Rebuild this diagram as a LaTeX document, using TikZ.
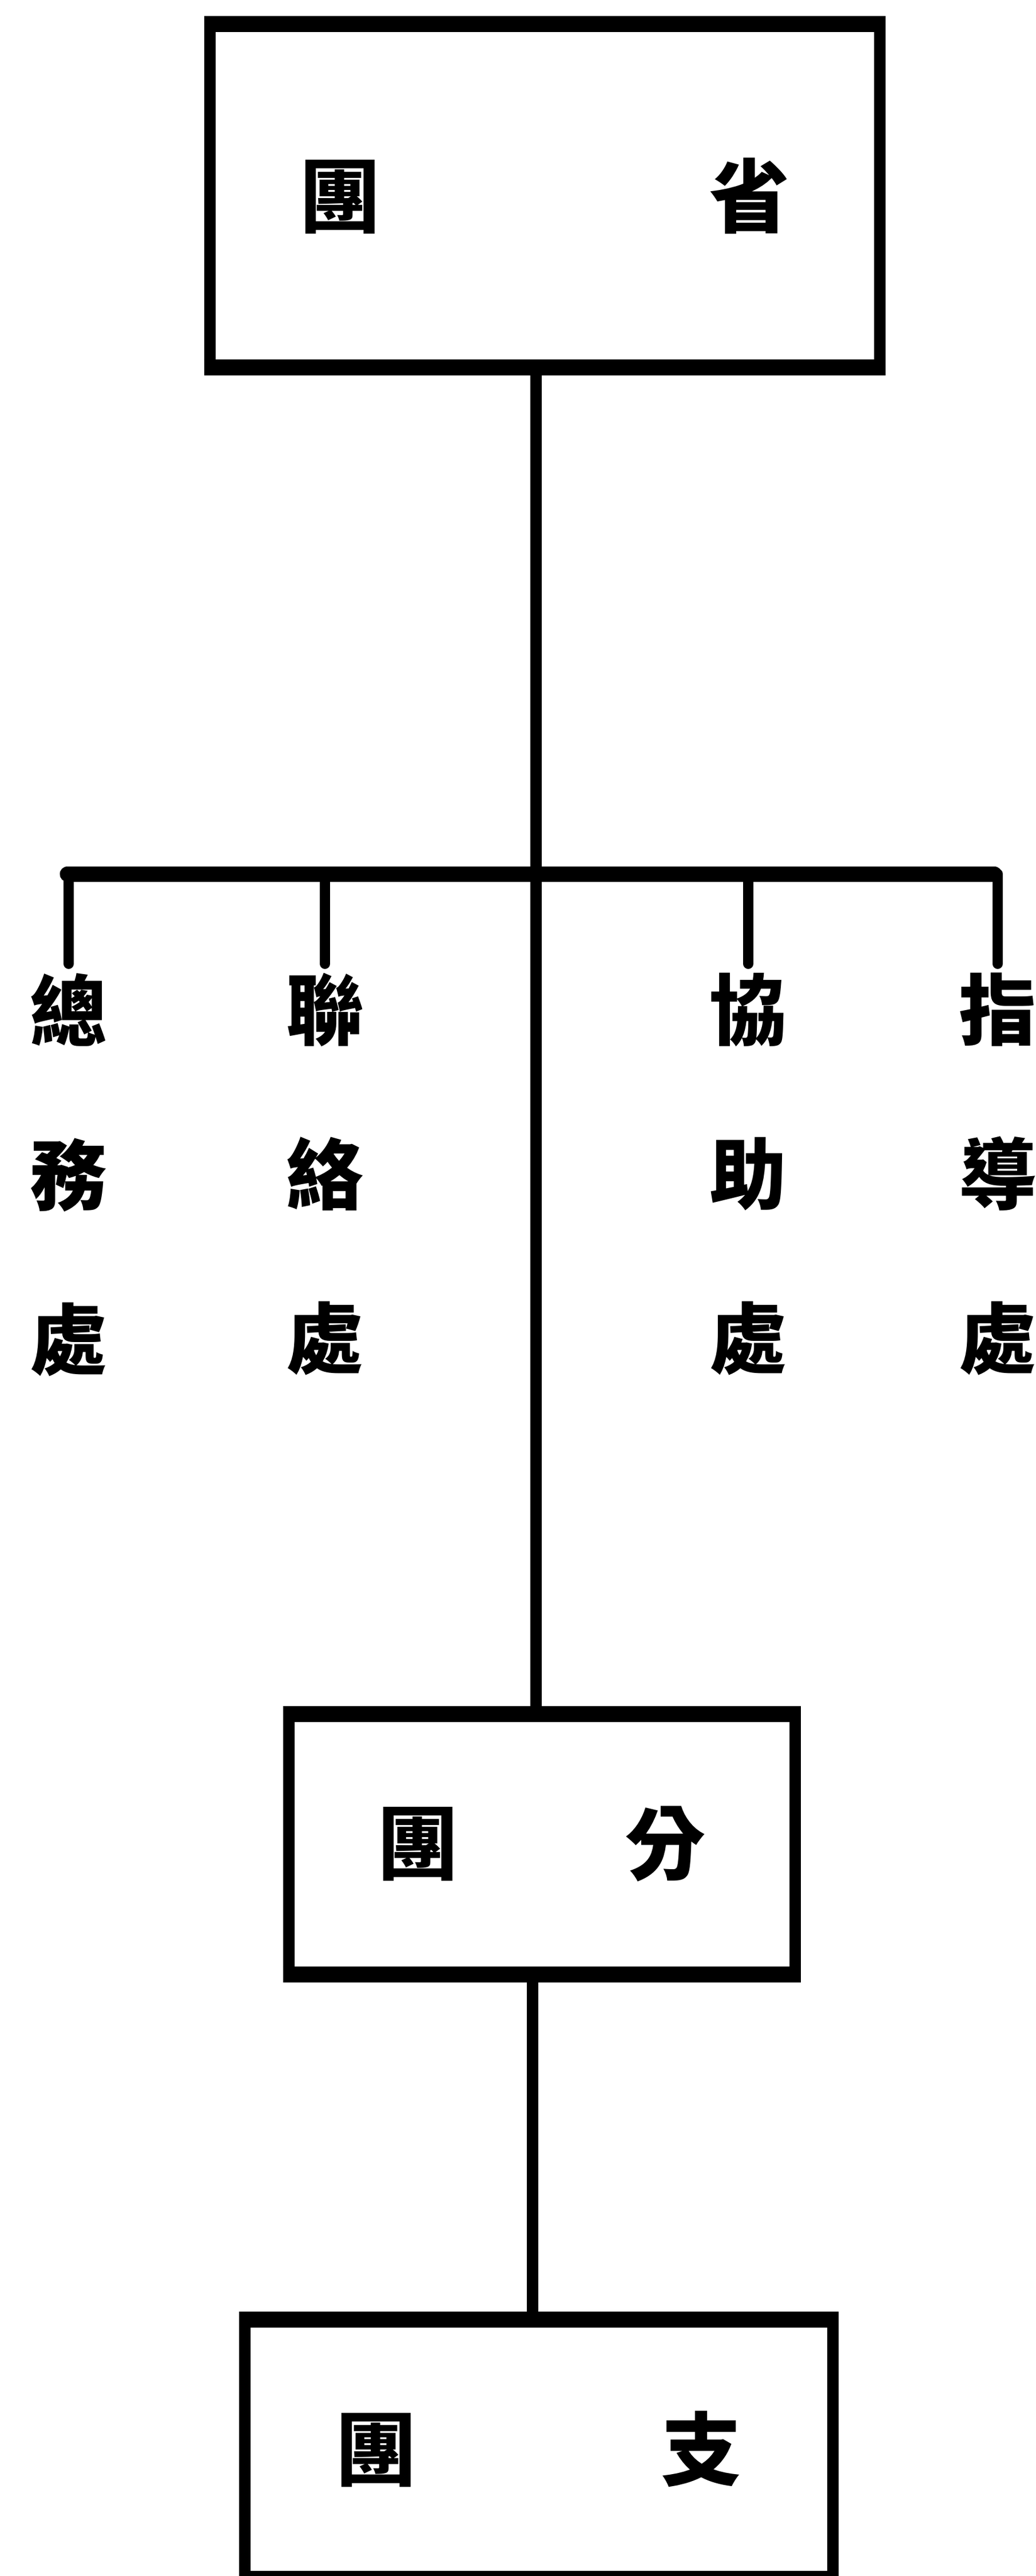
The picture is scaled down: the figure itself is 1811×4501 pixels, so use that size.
\documentclass[tikz,border=0pt]{standalone}
\usepackage{fontspec}
\newfontfamily\cjk{Noto Sans CJK TC}
\begin{document}
\begin{tikzpicture}[x=1pt,y=-1pt,
  box/.style={draw=black, line width=20pt, outer sep=0pt, inner sep=0pt,
    font=\cjk\bfseries\fontsize{140}{140}\selectfont},
  edge/.style={line width=28pt},
  conn/.style={line width=20pt},
  drop/.style={line width=18pt, line cap=round},
  lab/.style={inner sep=0pt, anchor=north, align=center,
    font=\cjk\bfseries\fontsize{135}{287}\selectfont}]
\useasboundingbox (0,0) rectangle (1811,4501);
\fill[white] (0,0) rectangle (1811,4501);

% boxes
\node[box, minimum width=1171pt, minimum height=600pt] (prov) at (952,342) {團\hspace{576pt}省};
\node[box, minimum width=885pt, minimum height=455pt] (mid) at (947,3222) {團\hspace{293pt}分};
\node[box, minimum width=1028pt, minimum height=453pt] (sub) at (942,4279) {團\hspace{429pt}支};

% thicker top and bottom edges
\foreach \b in {prov,mid,sub}{
  \draw[edge, shorten <=-10pt, shorten >=-10pt] (\b.north west) -- (\b.north east);
  \draw[edge, shorten <=-10pt, shorten >=-10pt] (\b.south west) -- (\b.south east);
}

% branch bar
\coordinate (barL) at (118,1527);
\coordinate (barR) at (1738,1527);
\draw[line width=27pt, line cap=round] (barL) -- (barR);

% labels
\node[lab] (zongwu) at (120,1700) {總\\務\\處};
\node[lab] (lianluo) at (568,1700) {聯\\絡\\處};
\node[lab] (xiezhu) at (1308,1700) {協\\助\\處};
\node[lab] (zhidao) at (1744,1700) {指\\導\\處};

\foreach \l in {zongwu,lianluo,xiezhu,zhidao}{
  \draw[drop] (\l.north |- barL) -- ([yshift=16pt]\l.north);
}

% trunk
\draw[conn] ([xshift=-15pt]prov.south) -- ([xshift=-15pt]prov.south |- mid.north);
\draw[conn] ([xshift=-16pt]mid.south) -- ([xshift=-16pt]mid.south |- sub.north);
\end{tikzpicture}
\end{document}
